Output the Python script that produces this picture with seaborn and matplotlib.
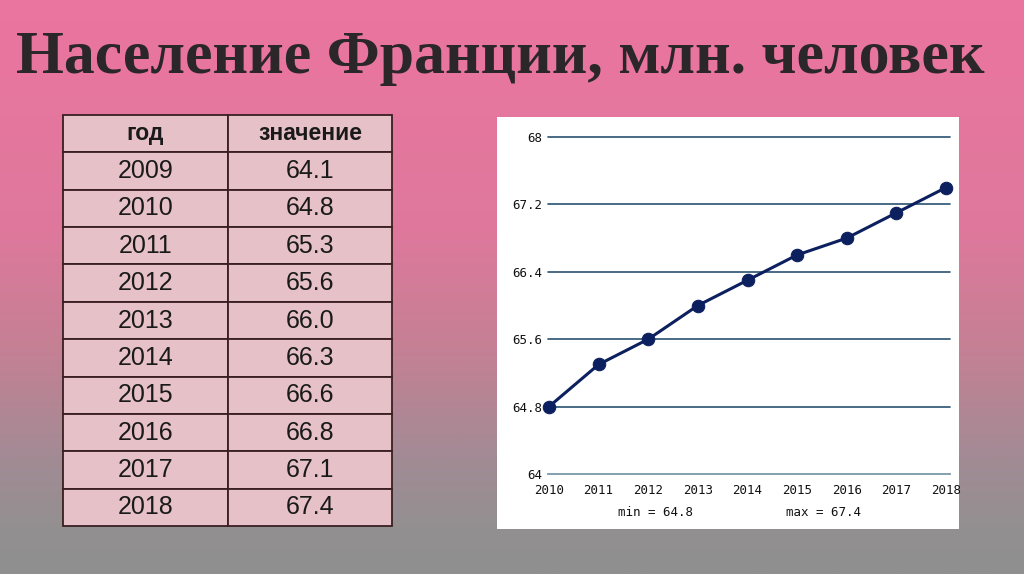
import numpy as np
import pandas as pd
import matplotlib.pyplot as plt
import seaborn as sns
from matplotlib.colors import LinearSegmentedColormap

sns.set_style("white")
plt.rcParams['font.family'] = ['Liberation Sans', 'DejaVu Sans']

# Table data
table_years = [2009, 2010, 2011, 2012, 2013, 2014, 2015, 2016, 2017, 2018]
table_values = [64.1, 64.8, 65.3, 65.6, 66.0, 66.3, 66.6, 66.8, 67.1, 67.4]
col_labels = ["год", "значение"]

# Chart data
chart_years = [2010, 2011, 2012, 2013, 2014, 2015, 2016, 2017, 2018]
chart_values = [64.8, 65.3, 65.6, 66.0, 66.3, 66.6, 66.8, 67.1, 67.4]
y_ticks = [64, 64.8, 65.6, 66.4, 67.2, 68]
y_tick_labels = ["64", "64.8", "65.6", "66.4", "67.2", "68"]

W, H = 1024, 574
fig = plt.figure(figsize=(W / 100, H / 100), dpi=100)

# Slide background: pink fading to grey
bg = fig.add_axes([0, 0, 1, 1])
cmap = LinearSegmentedColormap.from_list(
    "slide", [(0.0, "#eb759f"), (0.40, "#df789c"), (0.62, "#c38194"),
              (0.80, "#a28b94"), (0.92, "#939091"), (1.0, "#8f8f8f")])
grad = np.linspace(0, 1, 256).reshape(-1, 1)
bg.imshow(grad, aspect="auto", cmap=cmap, extent=[0, 1, 0, 1], origin="upper")
bg.set_xlim(0, 1)
bg.set_ylim(0, 1)
bg.axis("off")

fig.text(16 / W, 1 - 73 / H, "Население Франции, млн. человек",
         family=["Liberation Serif", "DejaVu Serif"], fontweight="bold",
         fontsize=44.5, color="#2b2628", ha="left", va="baseline")

# Table
cell_text = [[str(y), f"{v:.1f}"] for y, v in zip(table_years, table_values)]
tab_ax = fig.add_axes([63 / W, 1 - 526 / H, (392 - 63) / W, (526 - 115) / H])
tab_ax.axis("off")
tbl = tab_ax.table(cellText=cell_text, colLabels=col_labels,
                   cellLoc="center", bbox=[0, 0, 1, 1],
                   colWidths=[165, 164])
tbl.auto_set_font_size(False)
for (r, c), cell in tbl.get_celld().items():
    cell.set_facecolor("#e6c1c7")
    cell.set_edgecolor("#3a1f22")
    cell.set_linewidth(1.3)
    cell.get_text().set_fontsize(18)
    cell.get_text().set_color("#1a1a1a")
    if r == 0:
        cell.get_text().set_fontweight("bold")
        cell.get_text().set_fontsize(16.5)

# Chart panel
panel = fig.add_axes([497 / W, 1 - 529 / H, (959 - 497) / W, (529 - 117) / H])
panel.set_facecolor("white")
panel.set_xticks([])
panel.set_yticks([])
for s in panel.spines.values():
    s.set_visible(False)

px_per_year = (946 - 549) / 8
x0 = 2010 - 1 / px_per_year
x1 = 2018 + 4 / px_per_year
ax = fig.add_axes([548 / W, 1 - 474 / H, (950 - 548) / W, (474 - 137) / H])
ax.set_facecolor("none")
df = pd.DataFrame({"year": chart_years, "value": chart_values})
for yv in y_ticks[1:]:
    ax.axhline(yv, color="#2a5272", lw=1.2, zorder=1, clip_on=False)
sns.lineplot(data=df, x="year", y="value", ax=ax, color="#0c1f5e", lw=2.2,
             marker="o", markersize=9, markeredgecolor="#0c1f5e",
             clip_on=False, zorder=3)
ax.set_xlim(x0, x1)
ax.set_ylim(64, 68)
ax.set_xticks(chart_years)
ax.set_xticklabels([str(y) for y in chart_years])
ax.set_yticks(y_ticks)
ax.set_yticklabels(y_tick_labels)
ax.set_xlabel("")
ax.set_ylabel("")
for s in ["left", "right", "top"]:
    ax.spines[s].set_visible(False)
ax.spines["bottom"].set_color("#7a98a8")
ax.spines["bottom"].set_linewidth(1.3)
ax.tick_params(axis="x", direction="out", length=4, width=1, color="#7a98a8",
               pad=3, labelsize=9, labelcolor="#111111")
ax.tick_params(axis="y", length=0, pad=4, labelsize=9, labelcolor="#111111")
for lab in ax.get_xticklabels() + ax.get_yticklabels():
    lab.set_family(["DejaVu Sans Mono"])

fig.text(656 / W, 1 - 513 / H, f"min = {min(chart_values):.1f}", ha="center",
         va="center", fontsize=9, family=["DejaVu Sans Mono"], color="#111111")
fig.text(823 / W, 1 - 513 / H, f"max = {max(chart_values):.1f}", ha="center",
         va="center", fontsize=9, family=["DejaVu Sans Mono"], color="#111111")

fig.savefig("out.png", dpi=100)
